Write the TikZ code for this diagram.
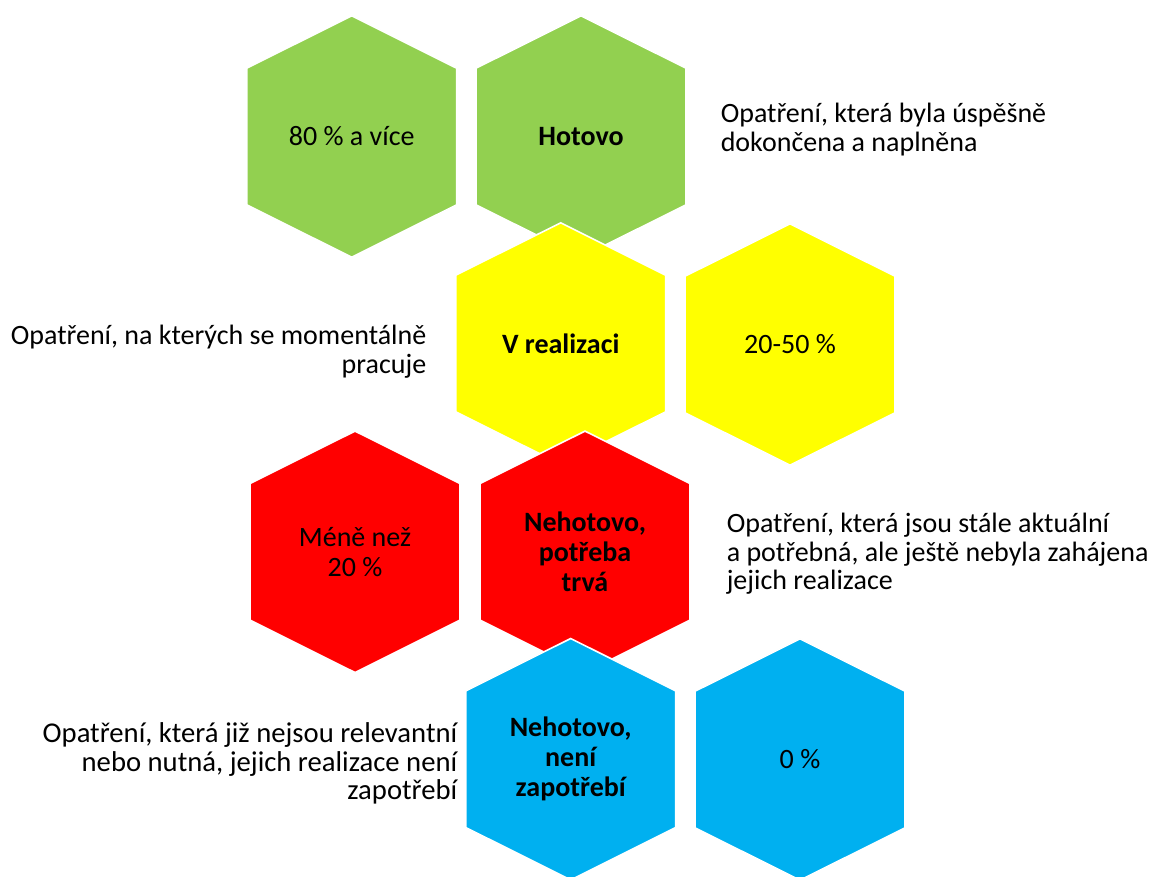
\documentclass[tikz,border=0pt]{standalone}
\usepackage{fontspec}
\setmainfont{Carlito}
\usepackage{xcolor}
\definecolor{hexGreen}{HTML}{92D050}
\definecolor{hexYellow}{HTML}{FFFF00}
\definecolor{hexRed}{HTML}{FF0000}
\definecolor{hexBlue}{HTML}{00B0F0}

\begin{document}
\begin{tikzpicture}[x=0.75pt,y=0.75pt,yscale=-1,xscale=1]
            \useasboundingbox (0,0) rectangle (1152,876); %set diagram 1152 x 876
            
            %Shape: Hexagon [id:hex_g1] 
            \draw  [color=white ,draw opacity=1 ][fill=hexGreen ,fill opacity=1 ][line width=1.2]  (246.7,68.2) -- (351.7,15.8) -- (456.7,68.2) -- (456.7,204.8) -- (351.7,257.2) -- (246.7,204.8) -- cycle ;
            %Shape: Hexagon [id:hex_g2] 
            \draw  [color=white ,draw opacity=1 ][fill=hexGreen ,fill opacity=1 ][line width=1.2]  (476,68.2) -- (581,15.8) -- (686,68.2) -- (686,204.8) -- (581,257.2) -- (476,204.8) -- cycle ;
            %Shape: Hexagon [id:hex_y1] 
            \draw  [color=white ,draw opacity=1 ][fill=hexYellow ,fill opacity=1 ][line width=1.2]  (455.7,275.2) -- (560.7,222.8) -- (665.7,275.2) -- (665.7,411.8) -- (560.7,464.2) -- (455.7,411.8) -- cycle ;
            %Shape: Hexagon [id:hex_y2] 
            \draw  [color=white ,draw opacity=1 ][fill=hexYellow ,fill opacity=1 ][line width=1.2]  (685,276.2) -- (790,223.8) -- (895,276.2) -- (895,412.8) -- (790,465.2) -- (685,412.8) -- cycle ;
            %Shape: Hexagon [id:hex_r1] 
            \draw  [color=white ,draw opacity=1 ][fill=hexRed ,fill opacity=1 ][line width=1.2]  (250,483.5) -- (355,431.1) -- (460,483.5) -- (460,620.1) -- (355,672.5) -- (250,620.1) -- cycle ;
            %Shape: Hexagon [id:hex_r2] 
            \draw  [color=white ,draw opacity=1 ][fill=hexRed ,fill opacity=1 ][line width=1.2]  (480,483.5) -- (585,431.1) -- (690,483.5) -- (690,620.1) -- (585,672.5) -- (480,620.1) -- cycle ;
            %Shape: Hexagon [id:hex_b1] 
            \draw  [color=white ,draw opacity=1 ][fill=hexBlue ,fill opacity=1 ][line width=1.2]  (465.7,690.9) -- (570.7,638.5) -- (675.7,690.9) -- (675.7,827.5) -- (570.7,879.9) -- (465.7,827.5) -- cycle ;
            %Shape: Hexagon [id:hex_b2] 
            \draw  [color=white ,draw opacity=1 ][fill=hexBlue ,fill opacity=1 ][line width=1.2]  (695,691.2) -- (800,638.8) -- (905,691.2) -- (905,827.8) -- (800,880.2) -- (695,827.8) -- cycle ;
            
            % Text Node
            \draw (351.7,136.5) node (pctDone) [inner sep=0.75pt] [font=\fontsize{21}{22.5}\selectfont] [align=center] {80 \% a více};
            % Text Node
            \draw (581,136.5) node (stDone) [inner sep=0.75pt] [font=\fontsize{21}{22.5}\selectfont\bfseries] [align=center] {Hotovo};
            % Text Node
            \draw (720.5,103) node (descDone) [anchor=north west][inner sep=0pt] [font=\fontsize{21}{21.3}\selectfont] [align=left] {Opatření, která byla úspěšně\\dokončena a naplněna};
            % Text Node
            \draw (560.7,343.5) node (stWork) [inner sep=0.75pt] [font=\fontsize{21}{22.5}\selectfont\bfseries] [align=center] {V realizaci};
            % Text Node
            \draw (790,344.5) node (pctWork) [inner sep=0.75pt] [font=\fontsize{21}{22.5}\selectfont] [align=center] {20-50 \%};
            % Text Node
            \draw (426.5,325) node (descWork) [anchor=north east][inner sep=0pt] [font=\fontsize{21}{21.3}\selectfont] [align=right] {Opatření, na kterých se momentálně\\pracuje};
            % Text Node
            \draw (355,551.8) node (pctTodo) [inner sep=0.75pt] [font=\fontsize{21}{22.5}\selectfont] [align=center] {Méně než\\20 \%};
            % Text Node
            \draw (585,551.8) node (stTodo) [inner sep=0.75pt] [font=\fontsize{21}{22.5}\selectfont\bfseries] [align=center] {Nehotovo,\\potřeba\\trvá};
            % Text Node
            \draw (726.5,513) node (descTodo) [anchor=north west][inner sep=0pt] [font=\fontsize{21}{21.3}\selectfont] [align=left] {Opatření, která jsou stále aktuální\\a potřebná, ale ještě nebyla zahájena\\jejich realizace};
            % Text Node
            \draw (570.7,759.2) node (stDrop) [inner sep=0.75pt] [font=\fontsize{21}{22.5}\selectfont\bfseries] [align=center] {Nehotovo,\\není\\zapotřebí};
            % Text Node
            \draw (800,759.5) node (pctDrop) [inner sep=0.75pt] [font=\fontsize{21}{22.5}\selectfont] [align=center] {0 \%};
            % Text Node
            \draw (457.5,722.5) node (descDrop) [anchor=north east][inner sep=0pt] [font=\fontsize{21.5}{21.4}\selectfont] [align=right] {Opatření, která již nejsou relevantní\\nebo nutná, jejich realizace není\\zapotřebí};
            
            
            \end{tikzpicture}
\end{document}
